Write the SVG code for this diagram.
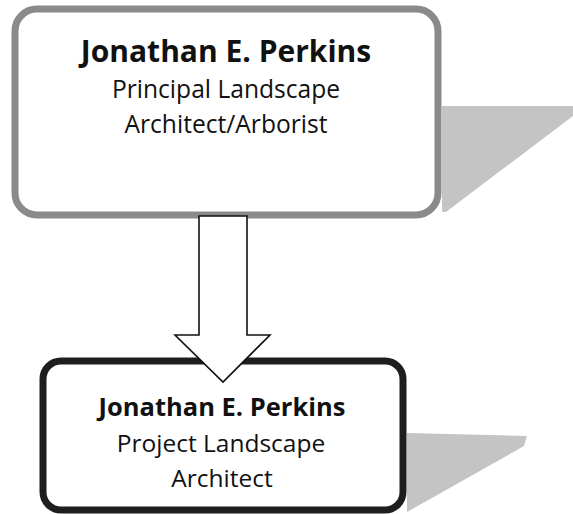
<svg xmlns="http://www.w3.org/2000/svg" width="573" height="514" viewBox="0 0 573 514">
<style>
.box{fill:#fff;stroke-linejoin:round}
.shadow{fill:#c4c4c4}
.t{font-family:"Open Sans","Noto Sans","Liberation Sans",sans-serif;text-anchor:middle;fill:#111}
.b{font-weight:bold}
.arrow{fill:#fff;stroke:#111;stroke-width:1.6;stroke-linejoin:miter}
</style>
<g id="node-principal">
<polygon class="shadow" points="442,106 573,106 573,116 446,212 442,212"/>
<rect class="box" x="15" y="9" width="423" height="206" rx="22" stroke="#8a8a8a" stroke-width="7"/>
<text class="t b" x="226" y="62" font-size="30">Jonathan E. Perkins</text>
<text class="t" x="226" y="98" font-size="24.6">Principal Landscape</text>
<text class="t" x="226" y="133" font-size="24.6">Architect/Arborist</text>
</g>
<g id="node-project">
<polygon class="shadow" points="407,433 527,436 524,446 407,512"/>
<rect class="box" x="43" y="361" width="360" height="149" rx="18" stroke="#1e1e1e" stroke-width="7"/>
<text class="t b" x="222" y="416" font-size="25.5">Jonathan E. Perkins</text>
<text class="t" x="221" y="452" font-size="24.5">Project Landscape</text>
<text class="t" x="222" y="487" font-size="24.5">Architect</text>
</g>
<g id="connectors">
<polygon class="arrow" points="199,216 247,216 247,335 270,335 223,382 175,335 199,335"/>
</g>
</svg>
